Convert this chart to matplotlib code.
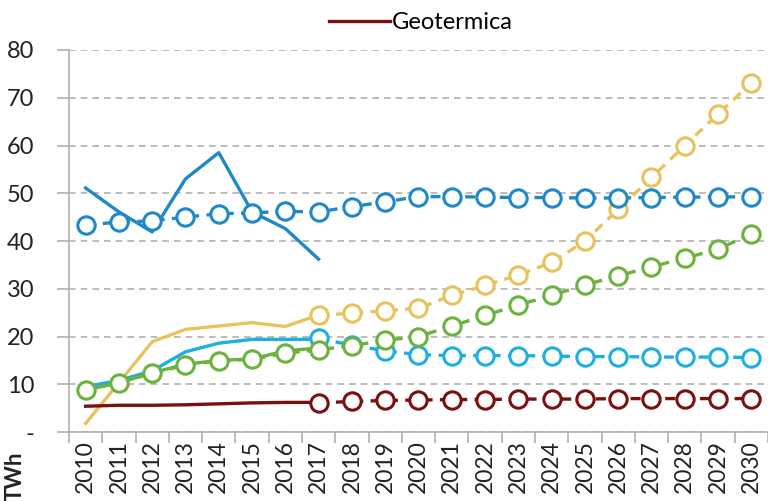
import numpy as np
import matplotlib.pyplot as plt

plt.rcParams['font.family'] = ['Lato', 'DejaVu Sans']

# dati osservati 2010-2017
anni_oss = list(range(2010, 2018))
idro_oss = [51.1, 46.1, 41.9, 53.0, 58.5, 46.1, 42.6, 36.2]
solare_oss = [1.8, 10.3, 18.9, 21.5, 22.2, 22.9, 22.1, 24.5]
eolico_oss = [9.5, 10.8, 12.8, 16.8, 18.6, 19.4, 19.4, 19.4]
bio_oss = [8.8, 10.3, 12.4, 14.2, 15.0, 15.3, 17.0, 17.6]
geo_oss = [5.4, 5.6, 5.6, 5.7, 5.9, 6.1, 6.2, 6.2]

# traiettorie
anni_tutti = list(range(2010, 2031))
anni_piano = list(range(2017, 2031))
idro_piano = [43.3, 44.0, 44.2, 45.0, 45.7, 45.9, 46.2, 46.1, 47.2, 48.2, 49.3,
              49.3, 49.2, 49.1, 49.1, 49.0, 49.0, 49.1, 49.2, 49.2, 49.3]
bio_piano = [8.8, 10.3, 12.3, 14.0, 14.9, 15.2, 16.5, 17.2, 18.1, 19.2, 20.0,
             22.2, 24.4, 26.6, 28.6, 30.8, 32.7, 34.6, 36.4, 38.3, 41.5]
solare_piano = [24.4, 24.9, 25.4, 25.9, 28.6, 30.7, 32.9, 35.5, 40.0, 46.6,
                53.3, 60.0, 66.6, 73.1]
eolico_piano = [19.6, 18.2, 17.0, 16.2, 16.0, 16.0, 16.0, 15.9, 15.8, 15.8,
                15.7, 15.7, 15.7, 15.6]
geo_piano = [6.1, 6.4, 6.6, 6.7, 6.8, 6.8, 6.9, 6.9, 6.9, 7.0, 7.0, 7.0, 7.0, 7.0]

c_idro = '#1F88C6'
c_eol = '#1DAEE2'
c_sol = '#E8C25C'
c_bio = '#6BB23E'
c_geo = '#7A1012'

fig = plt.figure(figsize=(7.68, 5.01), dpi=100)
ax = fig.add_axes([0.0898, 0.1377, 0.9102, 0.7625])

lw = 2.4
# linee solide (storico)
ax.plot(anni_oss, solare_oss, color=c_sol, lw=lw, zorder=2)
ax.plot(anni_oss, eolico_oss, color=c_eol, lw=lw, zorder=2)
ax.plot(anni_oss, bio_oss, color=c_bio, lw=lw, zorder=2)
linea_geo, = ax.plot(anni_oss, geo_oss, color=c_geo, lw=lw, zorder=2)
ax.plot(anni_oss, idro_oss, color=c_idro, lw=lw, zorder=2)

# linee tratteggiate con marker
stile = dict(lw=lw, ls=(0, (3, 2.2)), marker='o', ms=12.5, mfc='white',
             mew=2.2, zorder=3)
ax.plot(anni_piano, geo_piano, color=c_geo, **stile)
ax.plot(anni_piano, eolico_piano, color=c_eol, **stile)
ax.plot(anni_tutti, bio_piano, color=c_bio, **stile)
ax.plot(anni_piano, solare_piano, color=c_sol, **stile)
ax.plot(anni_tutti, idro_piano, color=c_idro, **stile)

ax.set_xlim(2009.5, 2030.5)
ax.set_ylim(0, 80)
ax.set_yticks(np.arange(0, 81, 10))
ax.set_yticklabels(['-'] + [str(v) for v in range(10, 81, 10)])
ax.set_xticks(anni_tutti)
ax.set_xticklabels([str(a) for a in anni_tutti], rotation=90)
ax.set_xticks(np.arange(2009.5, 2031, 1), minor=True)
ax.tick_params(axis='x', which='major', length=0, pad=6, labelsize=16.5, colors='#222222')
ax.tick_params(axis='x', which='minor', length=8, color='#b0b0b0', width=1.2)
ax.tick_params(axis='y', length=9, color='#b0b0b0', width=1.2, labelsize=17,
               colors='#222222', pad=16)
for t in ax.get_yticklines():
    t.set_color('#b0b0b0')
ax.yaxis.grid(True, color='#b0b0b0', ls=(0, (4, 3)), lw=1.2)
ax.set_axisbelow(True)
for s in ['top', 'right']:
    ax.spines[s].set_visible(False)
for s in ['left', 'bottom']:
    ax.spines[s].set_color('#b0b0b0')
    ax.spines[s].set_linewidth(1.2)

fig.text(0.02, 0.05, 'TWh', rotation=90, fontsize=16, fontweight='bold',
         color='#222222', ha='center', va='center')

fig.legend([linea_geo], ['Geotermica'], loc='center', bbox_to_anchor=(0.548, 0.955),
           frameon=False, fontsize=17, handlelength=2.6, handletextpad=0.1)

fig.savefig('out.png', dpi=100)
